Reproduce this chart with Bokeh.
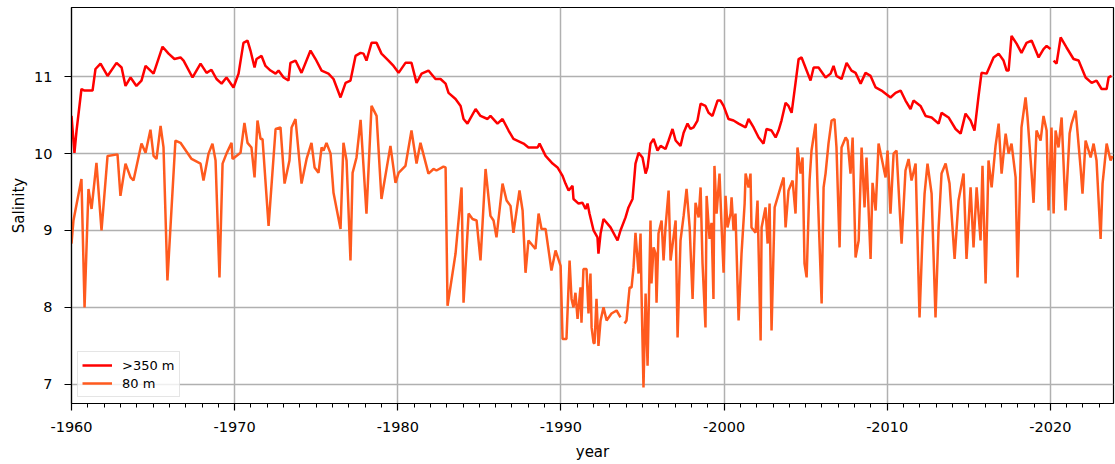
from bokeh.plotting import figure
from bokeh.models import FixedTicker, ColumnDataSource
from bokeh.embed import file_html
from bokeh.resources import INLINE

nan = float("nan")

# ---------------- data ----------------
deep_year = [1960.00, 1960.18, 1960.31, 1960.61, 1960.80, 1961.29, 1961.47, 1961.78, 1962.21, 1962.76,
             1963.07, 1963.31, 1963.62, 1963.98, 1964.29, 1964.54, 1965.03, 1965.58, 1965.95, 1966.31,
             1966.68, 1966.87, 1967.42, 1967.91, 1968.28, 1968.58, 1968.89, 1969.20, 1969.50, 1969.93,
             1970.24, 1970.54, 1970.79, 1970.97, 1971.22, 1971.34, 1971.65, 1971.89, 1972.20, 1972.51,
             1972.69, 1973.00, 1973.30, 1973.42, 1973.73, 1974.10, 1974.65, 1974.96, 1975.33, 1975.75,
             1976.06, 1976.49, 1976.80, 1977.10, 1977.41, 1977.72, 1977.90, 1978.08, 1978.39, 1978.70,
             1979.00, 1979.43, 1979.74, 1980.05, 1980.47, 1980.84, 1981.15, 1981.46, 1981.88, 1982.31,
             1982.62, 1982.93, 1983.11, 1983.54, 1983.85, 1984.03, 1984.27, 1984.77, 1985.07, 1985.50,
             1985.68, 1986.11, 1986.42, 1986.79, 1987.09, 1987.71, 1988.01, 1988.57, 1988.69, 1989.06,
             1989.49, 1989.79, 1990.10, 1990.28, 1990.47, 1990.71, 1990.77, 1991.08, 1991.32, 1991.51,
             1991.63, 1991.75, 1992.00, 1992.24, 1992.30, 1992.43, 1992.61, 1993.04, 1993.47, 1993.65,
             1993.96, 1994.14, 1994.39, 1994.57, 1994.76, 1995.00, 1995.19, 1995.31, 1995.49, 1995.68,
             1995.92, 1996.11, 1996.41, 1996.60, 1996.84, 1997.03, 1997.33, 1997.52, 1997.76, 1997.94,
             1998.13, 1998.37, 1998.56, 1998.86, 1999.05, 1999.29, 1999.60, 1999.78, 1999.97, 2000.27,
             2000.58, 2000.89, 2001.32, 2001.50, 2001.81, 2002.12, 2002.42, 2002.60, 2002.91, 2003.16,
             2003.34, 2003.52, 2003.77, 2003.95, 2004.14, 2004.38, 2004.57, 2004.75, 2005.06, 2005.30,
             2005.49, 2005.79, 2006.22, 2006.53, 2006.71, 2006.89, 2007.20, 2007.51, 2007.81, 2008.06,
             2008.37, 2008.67, 2008.98, 2009.29, 2009.65, 2010.20, 2010.51, 2010.82, 2011.12, 2011.43,
             2011.61, 2012.04, 2012.35, 2012.72, 2013.15, 2013.33, 2013.76, 2014.19, 2014.50, 2014.80,
             2015.11, 2015.35, 2015.60, 2015.78, 2016.09, 2016.52, 2016.83, 2017.13, 2017.32, 2017.44,
             2017.62, 2017.93, 2018.23, 2018.54, 2018.85, 2019.28, 2019.58, 2019.77, 2020.01, 2020.10,
             2020.20, 2020.38, 2020.63, 2020.99, 2021.42, 2021.73, 2022.16, 2022.53, 2022.83, 2023.14,
             2023.45, 2023.57, 2023.75]
deep_sal = [10.49, 10.01, 10.30, 10.84, 10.82, 10.82, 11.10, 11.17, 11.01, 11.18,
            11.12, 10.88, 10.99, 10.88, 10.95, 11.14, 11.04, 11.39, 11.30, 11.23,
            11.25, 11.21, 10.99, 11.17, 11.05, 11.09, 10.97, 10.91, 10.99, 10.86,
            11.04, 11.44, 11.47, 11.34, 11.12, 11.23, 11.27, 11.14, 11.08, 11.04,
            11.08, 10.99, 10.95, 11.18, 11.21, 11.05, 11.34, 11.23, 11.08, 11.04,
            10.97, 10.73, 10.92, 10.95, 11.27, 11.31, 11.30, 11.21, 11.44, 11.44,
            11.30, 11.21, 11.14, 11.05, 11.18, 11.18, 10.92, 11.04, 11.08, 10.97,
            10.97, 10.91, 10.79, 10.71, 10.62, 10.45, 10.39, 10.58, 10.49, 10.45,
            10.49, 10.39, 10.45, 10.30, 10.19, 10.13, 10.08, 10.08, 10.13, 9.97,
            9.87, 9.82, 9.71, 9.61, 9.52, 9.58, 9.41, 9.35, 9.36, 9.28,
            9.35, 9.22, 9.00, 8.91, 8.70, 8.96, 9.15, 9.04, 8.87, 9.00,
            9.17, 9.30, 9.41, 9.87, 10.01, 9.95, 9.74, 9.82, 10.13, 10.19,
            10.04, 10.10, 10.06, 10.17, 10.32, 10.17, 10.10, 10.27, 10.39, 10.32,
            10.34, 10.43, 10.65, 10.62, 10.53, 10.49, 10.69, 10.69, 10.62, 10.45,
            10.43, 10.39, 10.34, 10.45, 10.34, 10.21, 10.13, 10.32, 10.30, 10.21,
            10.30, 10.43, 10.66, 10.62, 10.53, 10.92, 11.23, 11.25, 11.08, 10.95,
            11.12, 11.12, 10.99, 11.04, 11.14, 11.01, 10.97, 11.18, 11.08, 11.05,
            10.91, 11.05, 11.01, 10.86, 10.82, 10.73, 10.79, 10.82, 10.69, 10.58,
            10.69, 10.62, 10.49, 10.47, 10.39, 10.53, 10.47, 10.32, 10.26, 10.52,
            10.43, 10.30, 10.75, 11.05, 11.04, 11.25, 11.30, 11.21, 11.08, 11.08,
            11.53, 11.43, 11.31, 11.44, 11.47, 11.25, 11.36, 11.40, 11.36, nan,
            11.21, 11.17, 11.51, 11.38, 11.23, 11.21, 10.99, 10.92, 10.95, 10.84,
            10.84, 10.99, 11.01]

shallow_year = [1960.00, 1960.12, 1960.61, 1960.80, 1961.04, 1961.23, 1961.53, 1961.84, 1962.21, 1962.82,
                1963.00, 1963.31, 1963.62, 1963.80, 1964.29, 1964.54, 1964.84, 1965.03, 1965.21, 1965.46,
                1965.64, 1965.88, 1966.37, 1966.68, 1967.36, 1967.91, 1968.09, 1968.40, 1968.64, 1968.83,
                1969.07, 1969.26, 1969.50, 1969.81, 1969.87, 1969.99, 1970.36, 1970.60, 1970.79, 1971.03,
                1971.22, 1971.40, 1971.59, 1971.71, 1972.08, 1972.51, 1972.81, 1973.06, 1973.36, 1973.49,
                1973.73, 1974.10, 1974.41, 1974.71, 1974.90, 1975.14, 1975.33, 1975.45, 1975.63, 1975.88,
                1976.06, 1976.49, 1976.67, 1976.86, 1977.10, 1977.23, 1977.47, 1977.72, 1978.08, 1978.39,
                1978.70, 1979.00, 1979.55, 1979.86, 1980.05, 1980.47, 1980.84, 1981.15, 1981.39, 1981.88,
                1982.19, 1982.37, 1982.80, 1982.93, 1983.05, 1983.54, 1983.91, 1984.03, 1984.34, 1984.58,
                1984.83, 1985.07, 1985.38, 1985.68, 1985.87, 1986.05, 1986.42, 1986.67, 1986.91, 1987.09,
                1987.46, 1987.65, 1987.83, 1988.01, 1988.44, 1988.63, 1988.81, 1989.06, 1989.42, 1989.67,
                1989.98, 1990.10, 1990.34, 1990.53, 1990.65, 1990.77, 1990.89, 1991.02, 1991.20, 1991.26,
                1991.38, 1991.57, 1991.69, 1991.81, 1991.88, 1992.00, 1992.06, 1992.18, 1992.30, 1992.43,
                1992.61, 1992.80, 1993.10, 1993.41, 1993.65, 1993.78, 1993.90, 1994.02, 1994.21, 1994.33,
                1994.45, 1994.57, 1994.76, 1994.88, 1994.94, 1995.06, 1995.19, 1995.31, 1995.49, 1995.55,
                1995.68, 1995.80, 1995.86, 1995.98, 1996.17, 1996.29, 1996.41, 1996.60, 1996.72, 1996.90,
                1997.03, 1997.15, 1997.33, 1997.52, 1997.70, 1997.89, 1998.07, 1998.25, 1998.44, 1998.56,
                1998.68, 1998.86, 1998.93, 1999.11, 1999.23, 1999.35, 1999.41, 1999.54, 1999.72, 1999.85,
                1999.97, 2000.09, 2000.21, 2000.40, 2000.46, 2000.58, 2000.70, 2000.89, 2001.07, 2001.26,
                2001.32, 2001.50, 2001.62, 2001.68, 2001.93, 2002.05, 2002.24, 2002.30, 2002.54, 2002.67,
                2002.79, 2002.91, 2003.10, 2003.28, 2003.46, 2003.65, 2003.77, 2003.95, 2004.20, 2004.38,
                2004.50, 2004.69, 2004.81, 2004.93, 2005.06, 2005.24, 2005.36, 2005.61, 2005.73, 2005.98,
                2006.10, 2006.22, 2006.40, 2006.59, 2006.77, 2006.89, 2007.08, 2007.20, 2007.45, 2007.57,
                2007.75, 2007.88, 2008.06, 2008.25, 2008.43, 2008.61, 2008.73, 2008.98, 2009.10, 2009.29,
                2009.47, 2009.65, 2009.90, 2010.02, 2010.20, 2010.39, 2010.57, 2010.88, 2011.12, 2011.31,
                2011.49, 2011.74, 2011.98, 2012.16, 2012.29, 2012.47, 2012.72, 2012.96, 2013.15, 2013.33,
                2013.58, 2013.82, 2014.13, 2014.37, 2014.68, 2014.86, 2015.11, 2015.29, 2015.48, 2015.72,
                2015.84, 2016.03, 2016.21, 2016.40, 2016.64, 2016.83, 2017.01, 2017.26, 2017.44, 2017.62,
                2017.87, 2017.99, 2018.23, 2018.48, 2018.60, 2018.85, 2018.97, 2019.15, 2019.40, 2019.58,
                2019.77, 2019.89, 2020.07, 2020.20, 2020.32, 2020.50, 2020.69, 2020.93, 2021.18, 2021.30,
                2021.55, 2021.85, 2021.97, 2022.16, 2022.47, 2022.65, 2022.83, 2023.08, 2023.20, 2023.45,
                2023.69, 2023.81]
shallow_sal = [8.83, 9.13, 9.67, 8.00, 9.54, 9.28, 9.88, 9.00, 9.97, 9.99,
               9.45, 9.87, 9.69, 9.65, 10.13, 10.01, 10.31, 9.97, 9.93, 10.36,
               10.08, 8.35, 10.17, 10.14, 9.93, 9.87, 9.65, 10.00, 10.13, 9.91,
               8.39, 9.87, 10.00, 10.14, 9.93, 9.95, 10.01, 10.40, 10.14, 10.08,
               9.69, 10.43, 10.19, 10.19, 9.06, 10.32, 10.34, 9.61, 9.91, 10.34,
               10.45, 9.61, 9.93, 10.14, 9.82, 9.75, 10.08, 10.04, 10.14, 10.00,
               9.49, 9.02, 10.14, 9.91, 8.61, 9.75, 9.95, 10.44, 9.22, 10.62,
               10.49, 9.41, 10.10, 9.62, 9.75, 9.84, 10.30, 9.87, 10.14, 9.74,
               9.80, 9.78, 9.83, 9.82, 8.02, 8.70, 9.56, 8.06, 9.22, 9.15,
               9.13, 8.61, 9.80, 9.19, 9.13, 8.91, 9.61, 9.39, 9.32, 8.97,
               9.52, 9.26, 8.45, 8.87, 8.76, 9.22, 9.02, 9.02, 8.48, 8.74,
               8.54, 7.59, 7.59, 8.61, 8.11, 8.00, 8.19, 7.85, 8.26, 7.80,
               8.50, 8.50, 7.92, 8.44, 7.74, 7.54, 7.53, 8.11, 7.50, 7.83,
               8.00, 7.83, 7.92, 7.96, 7.87, nan, 7.79, 7.83, 8.26, 8.26,
               8.52, 8.97, 8.44, 8.96, 8.18, 6.96, 8.18, 7.24, 9.13, 8.31,
               8.78, 8.70, 8.06, 8.96, 9.13, 8.61, 9.04, 9.52, 8.61, 8.91,
               9.13, 7.61, 8.87, 9.19, 9.54, 9.04, 8.11, 9.36, 9.17, 9.56,
               8.57, 7.74, 9.45, 8.89, 9.10, 8.11, 9.84, 9.22, 9.74, 9.04,
               8.45, 9.45, 9.04, 9.22, 9.43, 9.00, 9.22, 7.83, 8.70, 9.35,
               9.74, 9.56, 9.74, 9.04, 8.97, 9.39, 7.57, 9.04, 9.30, 8.83,
               9.35, 7.70, 9.30, 9.43, 9.56, 9.69, 9.04, 9.52, 9.65, 9.22,
               10.08, 9.74, 9.95, 8.57, 8.39, 9.65, 10.04, 10.39, 9.56, 8.05,
               9.56, 9.74, 10.13, 10.43, 10.45, 10.08, 8.78, 10.08, 10.21, 10.17,
               9.74, 10.21, 8.65, 8.87, 10.08, 9.30, 9.95, 8.63, 9.62, 9.26,
               10.13, 9.95, 9.69, 10.04, 9.22, 10.00, 10.04, 8.83, 9.78, 9.93,
               9.65, 9.87, 7.87, 8.91, 9.48, 9.87, 9.48, 7.87, 9.04, 9.74,
               9.87, 9.61, 8.63, 9.39, 9.74, 8.63, 9.56, 8.78, 9.56, 8.87,
               9.84, 8.31, 9.91, 9.56, 10.10, 10.39, 9.74, 10.26, 10.00, 10.13,
               9.69, 8.39, 10.34, 10.73, 10.47, 9.74, 9.36, 10.30, 10.17, 10.49,
               10.30, 9.26, 10.34, 9.22, 10.30, 10.08, 10.47, 9.26, 10.26, 10.39,
               10.56, 9.82, 9.48, 10.17, 9.95, 10.13, 9.91, 8.89, 9.61, 10.13,
               9.91, 9.97]

series_labels = [">350 m", "80 m"]
series_colors = ["#ff0000", "#ff5a1e"]

x_ticks = [1960, 1970, 1980, 1990, 2000, 2010, 2020]
x_tick_labels = ["-1960", "-1970", "-1980", "-1990", "-2000", "-2010", "-2020"]
x_minor_ticks = list(range(1960, 2024))
y_ticks = [7, 8, 9, 10, 11]

FONT = "DejaVu Sans"

p = figure(width=1115, height=463, output_backend="svg", toolbar_location=None,
           x_range=(1960, 2023.87), y_range=(6.75, 11.9),
           min_border_left=71, min_border_right=2, min_border_top=7, min_border_bottom=60)

src_deep = ColumnDataSource(dict(x=deep_year, y=deep_sal))
src_shallow = ColumnDataSource(dict(x=shallow_year, y=shallow_sal))

p.line("x", "y", source=src_deep, line_color=series_colors[0], line_width=2.5,
       legend_label=series_labels[0])
p.line("x", "y", source=src_shallow, line_color=series_colors[1], line_width=2.5,
       legend_label=series_labels[1])

# axes
p.xaxis.ticker = FixedTicker(ticks=x_ticks, minor_ticks=x_minor_ticks)
p.xaxis.major_label_overrides = dict(zip(x_ticks, x_tick_labels))
p.yaxis.ticker = FixedTicker(ticks=y_ticks)
p.xaxis.axis_label = "year"
p.yaxis.axis_label = "Salinity"

for ax in (p.xaxis[0], p.yaxis[0]):
    ax.axis_line_color = "black"
    ax.axis_line_width = 1.2
    ax.major_tick_line_color = "black"
    ax.major_tick_line_width = 1.2
    ax.major_tick_out = 7
    ax.major_tick_in = 0
    ax.major_label_text_font = FONT
    ax.major_label_text_font_size = "14.5px"
    ax.major_label_text_color = "black"
    ax.axis_label_text_font = FONT
    ax.axis_label_text_font_size = "15px"
    ax.axis_label_text_font_style = "normal"
    ax.axis_label_text_color = "black"

p.xaxis.minor_tick_line_color = "black"
p.xaxis.minor_tick_line_width = 1
p.xaxis.minor_tick_out = 4
p.xaxis.minor_tick_in = 0
p.yaxis.minor_tick_line_color = None
p.xaxis.major_label_standoff = 11
p.yaxis.major_label_standoff = 12
p.xaxis.axis_label_standoff = 8
p.yaxis.axis_label_standoff = 3

# grid
for g in (p.xgrid[0], p.ygrid[0]):
    g.grid_line_color = "#b0b0b0"
    g.grid_line_width = 1.5

p.outline_line_color = "black"
p.outline_line_width = 1.2
p.background_fill_color = "white"
p.border_fill_color = "white"

# legend
lg = p.legend[0]
lg.location = "bottom_left"
lg.margin = 6
lg.padding = 4
lg.spacing = 0
lg.label_height = 18
lg.glyph_height = 18
lg.glyph_width = 30
lg.label_standoff = 10
lg.label_text_font = FONT
lg.label_text_font_size = "13px"
lg.label_text_color = "black"
lg.border_line_color = "#cccccc"
lg.border_line_width = 1.5
lg.background_fill_alpha = 0.8

open("out.html", "w").write(file_html(p, INLINE))
